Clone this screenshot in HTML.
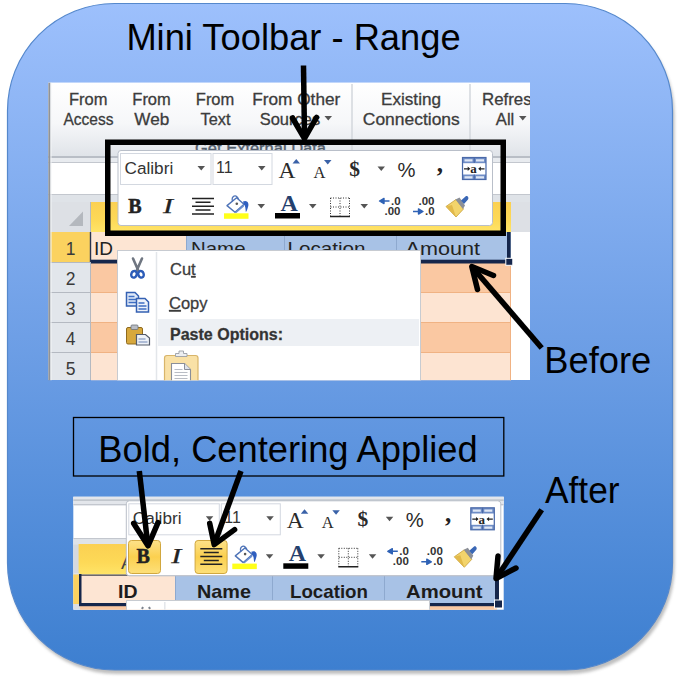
<!DOCTYPE html>
<html><head><meta charset="utf-8"><title>Mini Toolbar - Range</title>
<style>
html,body{margin:0;padding:0;background:#fff;}
body{width:680px;height:682px;overflow:hidden;}
svg{display:block;}
text{font-family:"Liberation Sans",sans-serif;}
.ui{font-size:16.5px;fill:#3c3c3c;stroke:#3c3c3c;stroke-width:0.3px;}
.ser{font-family:"Liberation Serif",serif;}
.big{font-size:36.3px;fill:#000;}
</style></head><body>
<svg width="680" height="682" viewBox="0 0 680 682">
<defs>
<linearGradient id="bg" x1="0" y1="0" x2="0" y2="1">
<stop offset="0" stop-color="#9dc0fc"/><stop offset="0.5" stop-color="#6e9fe6"/><stop offset="1" stop-color="#3d7fd0"/>
</linearGradient>
<linearGradient id="rib" x1="0" y1="0" x2="0" y2="1">
<stop offset="0" stop-color="#ffffff"/><stop offset="0.55" stop-color="#f6f7f9"/><stop offset="1" stop-color="#dfe3e8"/>
</linearGradient>
<linearGradient id="yhd" x1="0" y1="0" x2="0" y2="1"><stop offset="0" stop-color="#fbd052"/><stop offset="0.6" stop-color="#fdd957"/><stop offset="1" stop-color="#ffe468"/></linearGradient>
<linearGradient id="ybtn" x1="0" y1="0" x2="0" y2="1">
<stop offset="0" stop-color="#fde28a"/><stop offset="0.5" stop-color="#fbd04f"/><stop offset="1" stop-color="#fde07a"/>
</linearGradient>
<filter id="sh" x="-5%" y="-5%" width="110%" height="110%"><feGaussianBlur stdDeviation="1.800"/></filter>
<clipPath id="c1"><rect x="48.300" y="82.700" width="481.700" height="297.600"/></clipPath>
<clipPath id="c2"><rect x="73.300" y="496.800" width="430.400" height="112.900"/></clipPath>
<path id="dd" d="M0 0h7.500l-3.750 4.500z"/>
<g id="mtbg">
<rect x="118" y="150.500" width="374.500" height="75" rx="3" fill="#fff" stroke="#b9bfc9" stroke-width="1"/>
<rect x="120.500" y="153.500" width="90.500" height="31" fill="#fff" stroke="#d3d8e0" stroke-width="1"/>
<rect x="213" y="153.500" width="59" height="31" fill="#fff" stroke="#d3d8e0" stroke-width="1"/>
</g>
<g id="mtic">
<text x="124.500" y="174" font-size="17.200" fill="#333">Calibri</text>
<use href="#dd" x="197.500" y="166" fill="#555"/>
<text x="216" y="173" font-size="16" fill="#333">11</text>
<use href="#dd" x="258" y="166" fill="#555"/>
<text class="ser" x="278.500" y="178" font-size="23.500" fill="#2a2a2a">A</text>
<path d="M292.500 163.500h7.500l-3.750 -4.500z" fill="#3a62a8"/>
<text class="ser" x="313.500" y="178" font-size="16.500" fill="#2a2a2a">A</text>
<path d="M324 160h7.500l-3.750 4.500z" fill="#3a62a8"/>
<text class="ser" x="349.300" y="175.500" font-size="21.500" font-weight="bold" fill="#2a2a2a">$</text>
<use href="#dd" x="377.500" y="166.500" fill="#555"/>
<text x="397.500" y="176.500" font-size="21" fill="#2a2a2a" textLength="18" lengthAdjust="spacingAndGlyphs">%</text>
<text class="ser" x="436.800" y="172" font-size="25" font-weight="bold" fill="#222">,</text>
<!-- merge icon -->
<g>
<rect x="462.500" y="157.500" width="23.500" height="22" fill="#6f8dc6" stroke="#4a69a8" stroke-width="1.200"/>
<rect x="463.200" y="163.200" width="22.100" height="11.300" fill="#fff"/>
<path d="M464.500 160.300h8M476 160.300h8M464.500 177.300h8M476 177.300h8" stroke="#dfe7f5" stroke-width="2.200"/>
<path d="M474.250 157.500v5.500M474.250 174.500v5" stroke="#4a69a8" stroke-width="1.200" fill="none"/>
<text class="ser" x="470.300" y="173.300" font-size="13" font-weight="bold" fill="#222">a</text>
<path d="M464 168.800h5M484.500 168.800h-5" stroke="#222" stroke-width="1.300"/>
<path d="M470.300 168.800l-2.600 -2.200v4.400zM478.200 168.800l2.600 -2.200v4.400z" fill="#222"/>
</g>
<!-- row 2 -->
<text class="ser" x="128.300" y="212.500" font-size="20" font-weight="bold" fill="#222" stroke="#222" stroke-width="0.500">B</text>
<text class="ser" x="163" y="212.500" font-size="20" font-style="italic" fill="#222" stroke="#222" stroke-width="0.250" textLength="10" lengthAdjust="spacingAndGlyphs">I</text>
<path d="M192 198.400h22M195.500 202.300h15M192 206.200h22M195.500 210.100h15M192 214h22" stroke="#222" stroke-width="1.500"/>
<!-- paint bucket -->
<g>
<path d="M236.600 197.700L244 204.300L235 212.300L227 205.600Z" fill="#fff" stroke="#4f74b8" stroke-width="1.400" stroke-linejoin="round"/>
<path d="M235 212.300L244 204.300L244 206.500L236 213.200Z" fill="#6b8fd0"/>
<path d="M232.500 201.500C231 196 236 193.500 238.500 199" fill="none" stroke="#4f74b8" stroke-width="1.300"/>
<path d="M243 201.500C247 199.500 249.500 203 248 207C247.200 209.500 247 211 245.800 212C245.500 209 245.500 206 243.800 204.300Z" fill="#2f5fc0"/>
<circle cx="236.800" cy="203.800" r="1.300" fill="#555"/>
<rect x="224" y="213.300" width="24.500" height="5.500" fill="#ffff1a"/>
</g>
<use href="#dd" x="257.500" y="204" fill="#555"/>
<text class="ser" x="280.500" y="211" font-size="24" font-weight="bold" fill="#24406e">A</text>
<rect x="275" y="213" width="25" height="5.500" fill="#000"/>
<use href="#dd" x="309" y="204" fill="#555"/>
<!-- borders icon -->
<g stroke="#333" stroke-width="1" fill="none">
<path d="M330.500 198h19M330.500 207h19M330.500 198v18M340 198v18M349.500 198v18" stroke-dasharray="1 1.500"/>
<path d="M330 216.500h20" stroke-width="1.600" stroke="#222"/>
</g>
<use href="#dd" x="360.500" y="204" fill="#555"/>
<!-- decimals -->
<g font-size="11.500" font-weight="bold" fill="#333">
<text x="391" y="205">.0</text><text x="384.500" y="215.200">.00</text>
<text x="418.500" y="205">.00</text><text x="425" y="215.200">.0</text>
</g>
<path d="M389.500 201h-6M379.500 201l4.500 -2.600v5.200z" stroke="#2f62b5" stroke-width="1.400" fill="#2f62b5" stroke-linejoin="round"/>
<path d="M413 211.500h6M423 211.500l-4.500 -2.600v5.200z" stroke="#2f62b5" stroke-width="1.400" fill="#2f62b5" stroke-linejoin="round"/>
<!-- format painter -->
<g>
<path d="M446 206.500L456 199.500L463.500 209L456 217Z" fill="#f3d46b" stroke="#c79f3a" stroke-width="0.800"/>
<path d="M446 206.500L452 205L456 217Z" fill="#e2b94a"/>
<path d="M455.500 199.500L459.500 197.500L465 205.500L463 209Z" fill="#8b8f98"/>
<path d="M461 200.500L465.500 196.500C467 195 469.500 197.500 468 199.500L464 204Z" fill="#3a67b5"/>
</g>
</g>

</defs>

<!-- background card -->
<rect x="9.500" y="7.500" width="665" height="666.500" rx="107" fill="#808080" opacity="0.500" filter="url(#sh)"/>
<rect x="7.500" y="3.500" width="665" height="666.500" rx="107" fill="url(#bg)" stroke="#5588cc" stroke-width="1.200"/>

<!-- TOP SCREENSHOT -->
<g id="top" clip-path="url(#c1)">
<rect x="48" y="82" width="482" height="298" fill="#fff"/>
<!-- ribbon -->
<rect x="48" y="82" width="482" height="75" fill="url(#rib)"/>
<rect x="48" y="156" width="482" height="2" fill="#b9bec6"/>
<rect x="48" y="158" width="482" height="5" fill="#e8ebef"/>
<rect x="48" y="162" width="482" height="1" fill="#c3c7ce"/>
<rect x="48" y="194" width="482" height="1" fill="#c3c7ce"/>
<rect x="48" y="195" width="482" height="7" fill="#dfe3e8"/>
<line x1="352" y1="84" x2="352" y2="150" stroke="#d3d7dd" stroke-width="1.5"/>
<line x1="470" y1="84" x2="470" y2="150" stroke="#d3d7dd" stroke-width="1.5"/>
<g class="ui">
<text x="69" y="105" textLength="38.500" lengthAdjust="spacingAndGlyphs">From</text><text x="63.500" y="125" textLength="50" lengthAdjust="spacingAndGlyphs">Access</text>
<text x="132.300" y="105" textLength="38.500" lengthAdjust="spacingAndGlyphs">From</text><text x="134.300" y="125" textLength="35" lengthAdjust="spacingAndGlyphs">Web</text>
<text x="195.800" y="105" textLength="38.500" lengthAdjust="spacingAndGlyphs">From</text><text x="200.500" y="125" textLength="30" lengthAdjust="spacingAndGlyphs">Text</text>
<text x="252.300" y="105" textLength="88" lengthAdjust="spacingAndGlyphs">From Other</text><text x="259.700" y="125" textLength="60.500" lengthAdjust="spacingAndGlyphs">Sources</text>
<text x="381" y="105" textLength="60" lengthAdjust="spacingAndGlyphs">Existing</text><text x="362.800" y="125" textLength="97" lengthAdjust="spacingAndGlyphs">Connections</text>
<text x="482" y="105" textLength="59" lengthAdjust="spacingAndGlyphs">Refresh</text><text x="495.800" y="125" textLength="18.500" lengthAdjust="spacingAndGlyphs">All</text>
</g>
<use href="#dd" x="324.500" y="116" fill="#555"/>
<use href="#dd" x="519" y="116" fill="#555"/>
<text x="195" y="153.500" font-size="16" fill="#525d6b" stroke="#525d6b" stroke-width="0.400" textLength="131" lengthAdjust="spacingAndGlyphs">Get External Data</text>
<!-- column header row -->
<rect x="48" y="202" width="482" height="30" fill="#dde0e5"/>
<rect x="90" y="202" width="421" height="30" fill="url(#yhd)"/>
<path d="M69 226h14v-14.500z" fill="#b4b8be"/>
<!-- row headers -->
<rect x="50" y="232" width="40" height="30" fill="#fbd25f"/>
<rect x="50" y="262" width="40" height="118" fill="#e2e6eb"/>
<g stroke="#b4b9c1" stroke-width="1"><line x1="50" y1="262.500" x2="90" y2="262.500"/><line x1="50" y1="292.500" x2="90" y2="292.500"/><line x1="50" y1="322.500" x2="90" y2="322.500"/><line x1="50" y1="352.500" x2="90" y2="352.500"/><line x1="90.500" y1="202" x2="90.500" y2="380"/></g>
<g font-size="17.500" fill="#3a3a3a" text-anchor="middle"><text x="70.500" y="254.500">1</text><text x="70.500" y="285">2</text><text x="70.500" y="315">3</text><text x="70.500" y="345">4</text><text x="70.500" y="375">5</text></g>
<!-- cells -->
<rect x="91" y="232" width="420" height="30" fill="#a8c2e6"/>
<rect x="91" y="232" width="95" height="30" fill="#fde5d3"/>
<rect x="91" y="262" width="420" height="30.500" fill="#fac8a2"/>
<rect x="91" y="292.500" width="420" height="30" fill="#fde4d2"/>
<rect x="91" y="322.500" width="420" height="30" fill="#fac8a2"/>
<rect x="91" y="352.500" width="420" height="30" fill="#fde4d2"/>
<g stroke="#f0b283" stroke-width="1"><line x1="91" y1="292.500" x2="511" y2="292.500"/><line x1="91" y1="322.500" x2="511" y2="322.500"/><line x1="91" y1="352.500" x2="511" y2="352.500"/><line x1="510.500" y1="263" x2="510.500" y2="382"/></g>
<g stroke="#8ea9cf" stroke-width="1"><line x1="186.500" y1="232" x2="186.500" y2="262"/><line x1="284.500" y1="232" x2="284.500" y2="262"/><line x1="396.500" y1="232" x2="396.500" y2="262"/></g>
<g font-size="18.500" fill="#222"><text x="94" y="255.300" textLength="19" lengthAdjust="spacingAndGlyphs">ID</text><text x="191" y="255.300" textLength="54.500" lengthAdjust="spacingAndGlyphs">Name</text><text x="287.500" y="255.300" textLength="78" lengthAdjust="spacingAndGlyphs">Location</text><text x="405.500" y="255.300" textLength="74.500" lengthAdjust="spacingAndGlyphs">Amount</text></g>
<!-- selection border -->
<rect x="91" y="259.700" width="417" height="3.800" fill="#15264b"/>
<rect x="507" y="232" width="3.600" height="27" fill="#15264b"/>
<rect x="505.800" y="258.300" width="7" height="7" fill="#15264b" stroke="#fff" stroke-width="1"/>
<rect x="89.800" y="232" width="1.400" height="30" fill="#2a3450"/>
<rect x="48" y="82" width="2.500" height="300" fill="#8f9398"/><rect x="50.500" y="82" width="1" height="300" fill="#f4f5f7"/>
<!-- context menu -->
<rect x="117.500" y="250.500" width="303" height="135" fill="#fff" stroke="#c7cbd1"/>
<line x1="156.500" y1="252" x2="156.500" y2="380" stroke="#e3e6ea" stroke-width="1.5"/>
<rect x="158" y="319" width="261" height="27" fill="#edf0f4"/>
<g class="ui" font-size="17"><text x="170" y="275">Cu<tspan text-decoration="underline">t</tspan></text><text x="169" y="309"><tspan text-decoration="underline">C</tspan>opy</text><text x="170" y="339.700" font-weight="bold" fill="#333" textLength="113" lengthAdjust="spacingAndGlyphs">Paste Options:</text></g>
<!-- icons of context menu -->
<g id="cmicons">
<!-- scissors -->
<path d="M133 258.500l5.500 12.500M142 258.500l-5.500 12.500" stroke="#6f7681" stroke-width="2.600" fill="none" stroke-linecap="round"/>
<ellipse cx="134" cy="274.300" rx="2.700" ry="3.400" fill="none" stroke="#2c5cb8" stroke-width="2.400" transform="rotate(20 134 274.300)"/>
<ellipse cx="141" cy="274.300" rx="2.700" ry="3.400" fill="none" stroke="#2c5cb8" stroke-width="2.400" transform="rotate(-20 141 274.300)"/>
<!-- copy -->
<path d="M126.500 292.500h8.500l3.500 3.500v10h-12z" fill="#dfe9f8" stroke="#3561b3" stroke-width="1.500"/>
<path d="M128.500 296.500h6M128.500 299.500h8M128.500 302.500h8" stroke="#3f6fc4" stroke-width="1.300"/>
<path d="M136.500 298.500h8.500l3.500 3.500v10h-12z" fill="#eef3fb" stroke="#3561b3" stroke-width="1.500"/>
<path d="M138.500 303h6M138.500 306h8M138.500 309h8" stroke="#3f6fc4" stroke-width="1.300"/>
<!-- paste small -->
<rect x="126.500" y="327.500" width="16" height="16.500" rx="1.500" fill="#d7a83d" stroke="#8f6a1e" stroke-width="1"/>
<rect x="131" y="325" width="7" height="4.500" rx="1" fill="#b8bcc4" stroke="#6d717a" stroke-width="0.800"/>
<path d="M136.500 334.500h9l4 3.500v7h-13z" fill="#eef2f8" stroke="#555c6b" stroke-width="1.200"/>
<path d="M138.500 339h7M138.500 342h9" stroke="#6f86b5" stroke-width="1"/>
<!-- big clipboard -->
<rect x="164.500" y="355.500" width="33.500" height="32" rx="2.500" fill="#f9e1a6" stroke="#d8b56a" stroke-width="1.200"/>
<path d="M175.500 356.500v-3h3.500v-2.500h4.500v2.500h3.500v3z" fill="#eceef1" stroke="#9a9ea6" stroke-width="0.900"/>
<path d="M171.500 363.500h13l6 6v12h-19z" fill="#fff" stroke="#8a8f99" stroke-width="1.100"/>
<path d="M184.500 363.500v6h6" fill="#dfe3ea" stroke="#8a8f99" stroke-width="1"/>
<path d="M174.500 369.500h8M174.500 372.500h13M174.500 375.500h13M174.500 378.500h13" stroke="#b9bdc5" stroke-width="1.200"/>
</g>
<use href="#mtbg"/>
<use href="#mtic"/>
</g>

<!-- BOTTOM SCREENSHOT -->
<g id="bot" clip-path="url(#c2)">
<rect x="73" y="496" width="432" height="115" fill="#fff"/>
<rect x="73" y="496" width="432" height="9.500" fill="#e3e6eb"/>
<rect x="73" y="499.500" width="432" height="1.200" fill="#b4b9c1"/>
<rect x="73" y="504" width="432" height="1.200" fill="#c3c7ce"/>
<rect x="73" y="538" width="54" height="1" fill="#c3c7ce"/>
<rect x="73" y="539" width="54" height="6" fill="#dfe3e8"/>
<rect x="73" y="544.600" width="6" height="29" fill="#d5d9df"/>
<rect x="78.600" y="544" width="48" height="30.500" fill="url(#yhd)"/>
<text x="121" y="569" font-size="19" fill="#444">A</text>
<!-- row 1 -->
<rect x="73" y="573.500" width="7" height="36" fill="#d9dde3"/><rect x="73" y="574.500" width="7" height="29.500" fill="#fbd25f"/>
<rect x="80" y="575" width="417" height="28.500" fill="#a8c2e6"/>
<rect x="80" y="575" width="95.500" height="28.500" fill="#fde5d3"/>
<rect x="80" y="606" width="417" height="5" fill="#fac8a2"/>
<g stroke="#8ea9cf" stroke-width="1"><line x1="175.500" y1="575" x2="175.500" y2="603"/><line x1="272.500" y1="575" x2="272.500" y2="603"/><line x1="384.500" y1="575" x2="384.500" y2="603"/></g>
<g font-size="19" font-weight="bold" fill="#1c1c1c"><text x="118" y="597.500" textLength="19.500" lengthAdjust="spacingAndGlyphs">ID</text><text x="197" y="597.500" textLength="54" lengthAdjust="spacingAndGlyphs">Name</text><text x="290" y="597.500" textLength="78" lengthAdjust="spacingAndGlyphs">Location</text><text x="406" y="597.500" textLength="76.500" lengthAdjust="spacingAndGlyphs">Amount</text></g>
<rect x="79" y="574.500" width="418" height="1.300" fill="#4a4a55"/>
<rect x="79" y="574" width="2.500" height="31" fill="#15264b"/>
<rect x="79" y="603" width="415" height="3.200" fill="#15264b"/>
<rect x="495" y="576" width="4" height="24" fill="#15264b"/>
<rect x="494.500" y="600" width="8" height="8" fill="#15264b" stroke="#fff" stroke-width="1"/>
<!-- context menu peek -->
<rect x="126.500" y="600.500" width="303" height="20" fill="#fff" stroke="#c7cbd1"/>
<line x1="164.800" y1="602" x2="164.800" y2="610" stroke="#e3e6ea" stroke-width="1.500"/>
<path d="M142 609l1 -2M150 609l-1 -2" stroke="#7d838d" stroke-width="2"/>
<g transform="translate(8.300 350.300)">
<use href="#mtbg"/>
<rect x="120.200" y="190.200" width="32" height="33" rx="3" fill="url(#ybtn)" stroke="#d1a73e" stroke-width="1"/>
<rect x="186.800" y="190.200" width="32" height="33" rx="3" fill="url(#ybtn)" stroke="#d1a73e" stroke-width="1"/>
<use href="#mtic"/>
</g>
</g>

<!-- annotations -->
<g id="arrows" fill="none" stroke="#000" stroke-width="5.500" stroke-linejoin="round">
<g stroke-linecap="butt">
<path d="M303.500 65.500L304.500 137"/>
<path d="M541.700 348L473 268"/>
<path d="M541.700 509.700L497 577"/>
<path d="M139.300 471L147.700 544"/>
<path d="M241 471L214.700 543"/>
</g>
<g stroke-linecap="round">
<path d="M292.500 118L304.500 138.500L316.500 117.500"/>
<path d="M493.500 275.500L471.800 266.500L477.500 289.500"/>
<path d="M498 556L496 578.500L516 568"/>
<path d="M133.700 523.400L148 545.800L158 522.600"/>
<path d="M209.700 523.400L214.200 544.600L234.600 529.600"/>
</g>
</g>

<text class="big" x="293.500" y="49.800" text-anchor="middle">Mini Toolbar - Range</text>
<rect x="107.750" y="142.250" width="395.500" height="91" fill="none" stroke="#000" stroke-width="5.500"/>
<rect x="73.500" y="417.500" width="430.300" height="58.500" fill="none" stroke="#000" stroke-width="1.300"/>
<text class="big" x="288" y="462" text-anchor="middle">Bold, Centering Applied</text>
<text class="big" x="544.300" y="372.500">Before</text>
<text class="big" x="545" y="503" textLength="74.500" lengthAdjust="spacingAndGlyphs">After</text>
</svg>
</body></html>
